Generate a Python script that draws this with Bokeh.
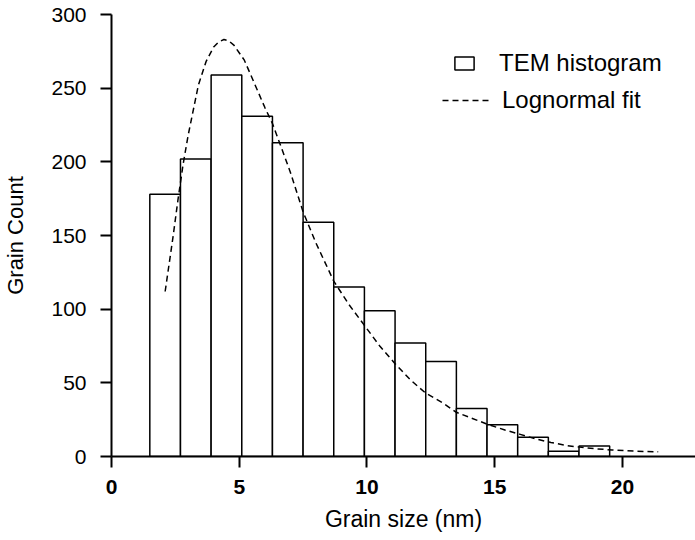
from bokeh.plotting import figure
from bokeh.models import Range1d, Legend, LegendItem, FixedTicker
from bokeh.embed import file_html
from bokeh.resources import INLINE

# ---- data ----
bin_edges = [1.5, 2.7, 3.9, 5.1, 6.3, 7.5, 8.7, 9.9, 11.1, 12.3, 13.5, 14.7, 15.9, 17.1, 18.3, 19.5]
counts = [178, 202, 259, 231, 213, 159, 115, 99, 77, 64.5, 32.5, 21.5, 13, 3.6, 7.2]

fit_x = [2.1, 2.4, 2.6, 2.8, 3.0, 3.4, 3.7, 4.0, 4.2, 4.4, 4.6, 4.8, 5.2, 5.6, 6.0, 6.3, 6.6, 7.0,
         7.5, 8.0, 8.7, 9.3, 9.9, 10.5, 11.1, 11.7, 12.3, 13.0, 13.5, 14.1, 14.7, 15.4,
         16.0, 16.6, 17.2, 17.8, 18.4, 19.0, 19.6, 20.5, 21.4]
fit_y = [112, 148, 174, 198, 218, 252, 268, 278, 281.5, 283, 282, 279, 269, 253, 237, 226, 212, 193,
         166, 145, 119, 103, 89, 75, 63, 52, 43, 36, 30, 26, 22, 18,
         15, 12, 9.5, 7.5, 6.2, 5.2, 4.4, 3.6, 3.2]

x_ticks = [0, 5, 10, 15, 20]
y_ticks = [0, 50, 100, 150, 200, 250, 300]

FONT = "Liberation Sans"

p = figure(width=695, height=540, output_backend="svg", toolbar_location=None,
           x_range=Range1d(0, 22.86), y_range=Range1d(0, 300),
           min_border_left=109, min_border_right=0, min_border_top=14, min_border_bottom=84)
p.outline_line_color = None
p.xgrid.visible = False
p.ygrid.visible = False
p.background_fill_color = "white"
p.border_fill_color = "white"

bars = p.quad(left=bin_edges[:-1], right=bin_edges[1:], top=counts, bottom=0,
              fill_color="white", line_color="black", line_width=1.5)
fit = p.line(fit_x, fit_y, line_color="black", line_width=1.5, line_dash="6 4")

for ax in (p.xaxis[0], p.yaxis[0]):
    ax.axis_line_width = 2
    ax.axis_line_color = "black"
    ax.major_tick_line_width = 2
    ax.major_tick_line_color = "black"
    ax.major_tick_in = 0
    ax.major_tick_out = 11
    ax.minor_tick_line_color = None
    ax.major_label_text_font = FONT
    ax.axis_label_text_font = FONT
    ax.axis_label_text_font_style = "normal"
    ax.axis_label_text_color = "black"
    ax.major_label_text_color = "black"

p.xaxis.ticker = FixedTicker(ticks=x_ticks)
p.yaxis.ticker = FixedTicker(ticks=y_ticks)
p.xaxis.major_label_text_font_size = "21px"
p.xaxis.major_label_text_font_style = "bold"
p.yaxis.major_label_text_font_size = "21px"
p.xaxis.major_label_standoff = 12
p.yaxis.major_label_standoff = 14
p.xaxis.axis_label = "Grain size (nm)"
p.yaxis.axis_label = "Grain Count"
p.xaxis.axis_label_text_font_size = "23px"
p.yaxis.axis_label_text_font_size = "22px"
p.xaxis.axis_label_standoff = 9
p.yaxis.axis_label_standoff = 20

def make_legend(item, vx, vy, gw, gh, standoff):
    lg = Legend(items=[item], location=(vx, vy), orientation="vertical",
                glyph_width=gw, glyph_height=gh, label_height=30,
                label_standoff=standoff, padding=0, margin=0, spacing=0,
                border_line_color=None, background_fill_alpha=0,
                label_text_font=FONT, label_text_font_size="24px",
                label_text_color="black")
    return lg

p.add_layout(make_legend(LegendItem(label="TEM histogram", renderers=[bars]), 341, 378, 24, 16, 23), "center")
p.add_layout(make_legend(LegendItem(label="Lognormal fit", renderers=[fit]), 331, 341, 47, 16, 13), "center")

open("out.html", "w").write(file_html(p, INLINE))
